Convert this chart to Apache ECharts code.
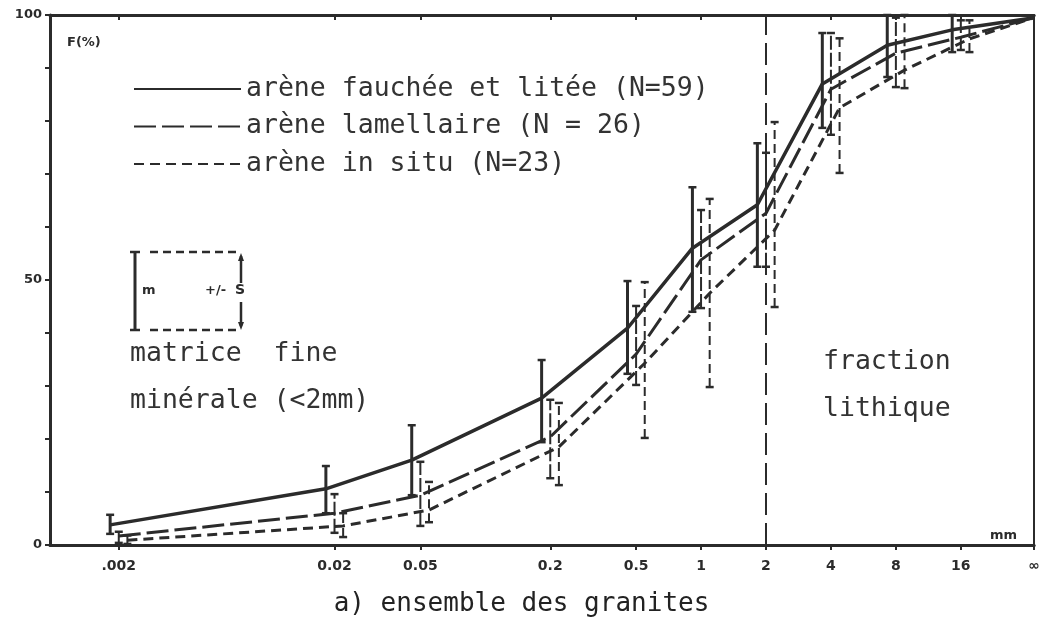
<!DOCTYPE html>
<html>
<head>
<meta charset="utf-8">
<script src="https://cdn.jsdelivr.net/npm/echarts@6/dist/echarts.min.js"></script>
<style>
  html, body { margin: 0; padding: 0; background: #fff; }
  #chart { width: 1043px; height: 618px; }
</style>
</head>
<body>
<div id="chart"></div>
<script>
'use strict';

// classes granulométriques (mm) ; la dernière est l'extrémité "infinie" de la courbe
var sizes = [0.002, 0.02, 0.05, 0.2, 0.5, 1, 2, 4, 8, 16, 35];
var sizeLabels = ['.002', '0.02', '0.05', '0.2', '0.5', '1', '2', '4', '8', '16', '∞'];
var axisMinMm = 0.00096;

// F(%) cumulé : moyenne m, puis m-s et m+s
var faucheeMean = [3.8, 10.6, 16.0, 27.7, 40.9, 56.0, 64.2, 87.0, 94.3, 97.2, 99.5];
var faucheeLow  = [2.1, 6.0, 9.4, 19.4, 32.3, 44.0, 52.5, 78.7, 88.3, 93.0, null];
var faucheeHigh = [5.7, 14.9, 22.6, 34.9, 49.8, 67.5, 75.8, 96.6, 100, 100, null];

var lamMean = [1.7, 6.0, 9.4, 20.4, 36.0, 53.8, 62.6, 86.0, 92.8, 95.8, 99.5];
var lamLow  = [0.4, 2.3, 3.6, 12.6, 30.2, 44.7, 52.5, 77.4, 86.4, 93.4, null];
var lamHigh = [2.5, 9.6, 15.7, 27.4, 45.1, 63.2, 74.0, 96.6, 99.5, 99.0, null];

var situMean = [0.9, 3.6, 6.6, 18.5, 34.3, 47.5, 59.4, 82.5, 89.6, 95.5, 99.5];
var situLow  = [0.2, 1.5, 4.3, 11.3, 20.2, 29.8, 44.9, 70.2, 86.2, 93.0, null];
var situHigh = [1.8, 6.0, 11.9, 26.8, 49.6, 65.3, 79.8, 95.6, 100, 99.0, null];

var seriesNames = [
  'arène fauchée et litée (N=59)',
  'arène lamellaire (N = 26)',
  'arène in situ (N=23)'
];

var ink = '#2b2b2b';
var mono = '"DejaVu Sans Mono", monospace';
var boldSans = '"DejaVu Sans", sans-serif';
var dodge = [-0.04, 0, 0.04];   // décalage (décades) entre les trois courbes
var last = sizes.length - 1;

function xOf(i, k) {
  return Math.log10(sizes[i]) + (i === last ? 0 : dodge[k]);
}
function linePoints(mean, k) {
  return mean.map(function (v, i) { return [xOf(i, k), v]; });
}
function barPoints(low, high, k) {
  var out = [];
  low.forEach(function (v, i) {
    if (v !== null) out.push([xOf(i, k), v, high[i]]);
  });
  return out;
}
function errorBars(name, data, style) {
  return {
    name: name,
    type: 'custom',
    data: data,
    z: 3,
    silent: true,
    encode: { x: 0, y: [1, 2] },
    renderItem: function (params, api) {
      var lo = api.coord([api.value(0), api.value(1)]);
      var hi = api.coord([api.value(0), api.value(2)]);
      var cap = 4;
      return {
        type: 'group',
        children: [
          { type: 'line', shape: { x1: lo[0], y1: lo[1], x2: hi[0], y2: hi[1] },
            style: { stroke: ink, lineWidth: style.width, lineDash: style.dash } },
          { type: 'line', shape: { x1: lo[0] - cap, y1: lo[1], x2: lo[0] + cap, y2: lo[1] },
            style: { stroke: ink, lineWidth: 2.5 } },
          { type: 'line', shape: { x1: hi[0] - cap, y1: hi[1], x2: hi[0] + cap, y2: hi[1] },
            style: { stroke: ink, lineWidth: 2.5 } }
        ]
      };
    }
  };
}

var tickValues = sizes.map(function (s) { return Math.log10(s); });
function labelFor(v) {
  var best = 0;
  tickValues.forEach(function (t, i) {
    if (Math.abs(t - v) < Math.abs(tickValues[best] - v)) best = i;
  });
  return sizeLabels[best];
}

var myChart = echarts.init(document.getElementById('chart'));

myChart.setOption({
  backgroundColor: '#fff',
  animation: false,
  title: {
    text: 'a) ensemble des granites',
    left: 'center',
    top: 586,
    textStyle: { fontFamily: mono, fontSize: 26, fontWeight: 'normal', color: '#222' }
  },
  legend: {
    data: seriesNames,
    orient: 'vertical',
    left: 128,
    top: 69,
    itemWidth: 107,
    itemHeight: 14,
    itemGap: 7.5,
    selectedMode: false,
    itemStyle: { opacity: 0 },
    textStyle: { fontFamily: mono, fontSize: 26.5, color: '#333', lineHeight: 30 }
  },
  grid: { left: 50, right: 3, top: 15, bottom: 73 },
  xAxis: [{
    type: 'value',
    position: 'bottom',
    min: Math.log10(axisMinMm),
    max: Math.log10(sizes[last]),
    splitLine: { show: false },
    axisLine: { onZero: false, lineStyle: { color: ink, width: 3 } },
    axisTick: { customValues: tickValues, length: 5, lineStyle: { color: ink, width: 2 } },
    axisLabel: {
      customValues: tickValues,
      formatter: labelFor,
      margin: 14,
      fontFamily: boldSans, fontWeight: 'bold', fontSize: 14, color: ink
    }
  }, {
    type: 'value',
    position: 'top',
    min: Math.log10(axisMinMm),
    max: Math.log10(sizes[last]),
    splitLine: { show: false },
    axisLine: { onZero: false, lineStyle: { color: ink, width: 3 } },
    axisTick: { inside: true, customValues: tickValues, length: 5, lineStyle: { color: ink, width: 2 } },
    axisLabel: { show: false }
  }],
  yAxis: [{
    type: 'value',
    position: 'left',
    min: 0,
    max: 100,
    interval: 10,
    splitLine: { show: false },
    axisLine: { show: true, onZero: false, lineStyle: { color: ink, width: 3 } },
    axisTick: { length: 5, lineStyle: { color: ink, width: 2 } },
    axisLabel: {
      formatter: function (v) { return v % 50 === 0 ? String(v) : ''; },
      margin: 8,
      fontFamily: boldSans, fontWeight: 'bold', fontSize: 13, color: ink
    }
  }, {
    type: 'value',
    position: 'right',
    min: 0,
    max: 100,
    splitLine: { show: false },
    axisLine: { show: true, onZero: false, lineStyle: { color: ink, width: 2 } },
    axisTick: { show: false },
    axisLabel: { show: false }
  }],
  series: [
    {
      name: seriesNames[0], type: 'line', symbol: 'none', z: 4,
      data: linePoints(faucheeMean, 0),
      lineStyle: { color: ink, width: 3.5, type: 'solid' },
      itemStyle: { color: ink },
      markLine: {
        silent: true, symbol: 'none', label: { show: false },
        lineStyle: { color: ink, width: 2, type: [22, 8] },
        data: [{ xAxis: Math.log10(2) }]
      }
    },
    {
      name: seriesNames[1], type: 'line', symbol: 'none', z: 4,
      data: linePoints(lamMean, 1),
      lineStyle: { color: ink, width: 3, type: [22, 6] },
      itemStyle: { color: ink }
    },
    {
      name: seriesNames[2], type: 'line', symbol: 'none', z: 4,
      data: linePoints(situMean, 2),
      lineStyle: { color: ink, width: 3, type: [10, 6] },
      itemStyle: { color: ink }
    },
    errorBars('s1', barPoints(faucheeLow, faucheeHigh, 0), { width: 3, dash: null }),
    errorBars('s2', barPoints(lamLow, lamHigh, 1), { width: 2, dash: [14, 3] }),
    errorBars('s3', barPoints(situLow, situHigh, 2), { width: 2, dash: [9, 5] })
  ],
  graphic: [
    { type: 'text', left: 67, top: 36,
      style: { text: 'F(%)', font: 'bold 13px "DejaVu Sans"', fill: ink } },
    { type: 'text', left: 990, top: 529,
      style: { text: 'mm', font: 'bold 13px "DejaVu Sans"', fill: ink } },
    { type: 'text', left: 130, top: 341,
      style: { text: 'matrice  fine', font: '26.5px "DejaVu Sans Mono"', fill: '#333' } },
    { type: 'text', left: 130, top: 388,
      style: { text: 'minérale (<2mm)', font: '26.5px "DejaVu Sans Mono"', fill: '#333' } },
    { type: 'text', left: 823, top: 349,
      style: { text: 'fraction', font: '26.5px "DejaVu Sans Mono"', fill: '#333' } },
    { type: 'text', left: 823, top: 396,
      style: { text: 'lithique', font: '26.5px "DejaVu Sans Mono"', fill: '#333' } },
    // petite clé m / +/- S
    { type: 'group', children: [
      { type: 'line', shape: { x1: 135, y1: 252, x2: 135, y2: 330 }, style: { stroke: ink, lineWidth: 3 } },
      { type: 'line', shape: { x1: 130, y1: 252, x2: 140, y2: 252 }, style: { stroke: ink, lineWidth: 2.5 } },
      { type: 'line', shape: { x1: 130, y1: 330, x2: 140, y2: 330 }, style: { stroke: ink, lineWidth: 2.5 } },
      { type: 'line', shape: { x1: 150, y1: 252, x2: 238, y2: 252 }, style: { stroke: ink, lineWidth: 2.5, lineDash: [8, 5] } },
      { type: 'line', shape: { x1: 150, y1: 330, x2: 238, y2: 330 }, style: { stroke: ink, lineWidth: 2.5, lineDash: [8, 5] } },
      { type: 'line', shape: { x1: 241, y1: 256, x2: 241, y2: 283 }, style: { stroke: ink, lineWidth: 2.5 } },
      { type: 'line', shape: { x1: 241, y1: 302, x2: 241, y2: 326 }, style: { stroke: ink, lineWidth: 2.5 } },
      { type: 'polygon', shape: { points: [[241, 253], [238, 261], [244, 261]] }, style: { fill: ink } },
      { type: 'polygon', shape: { points: [[241, 330], [238, 322], [244, 322]] }, style: { fill: ink } },
      { type: 'text', left: 142, top: 284, style: { text: 'm', font: 'bold 13px "DejaVu Sans"', fill: ink } },
      { type: 'text', left: 205, top: 284, style: { text: '+/-', font: 'bold 13px "DejaVu Sans"', fill: ink } },
      { type: 'text', left: 235, top: 283, style: { text: 'S', font: 'bold 14px "DejaVu Sans"', fill: ink } }
    ] }
  ]
});
</script>
</body>
</html>
